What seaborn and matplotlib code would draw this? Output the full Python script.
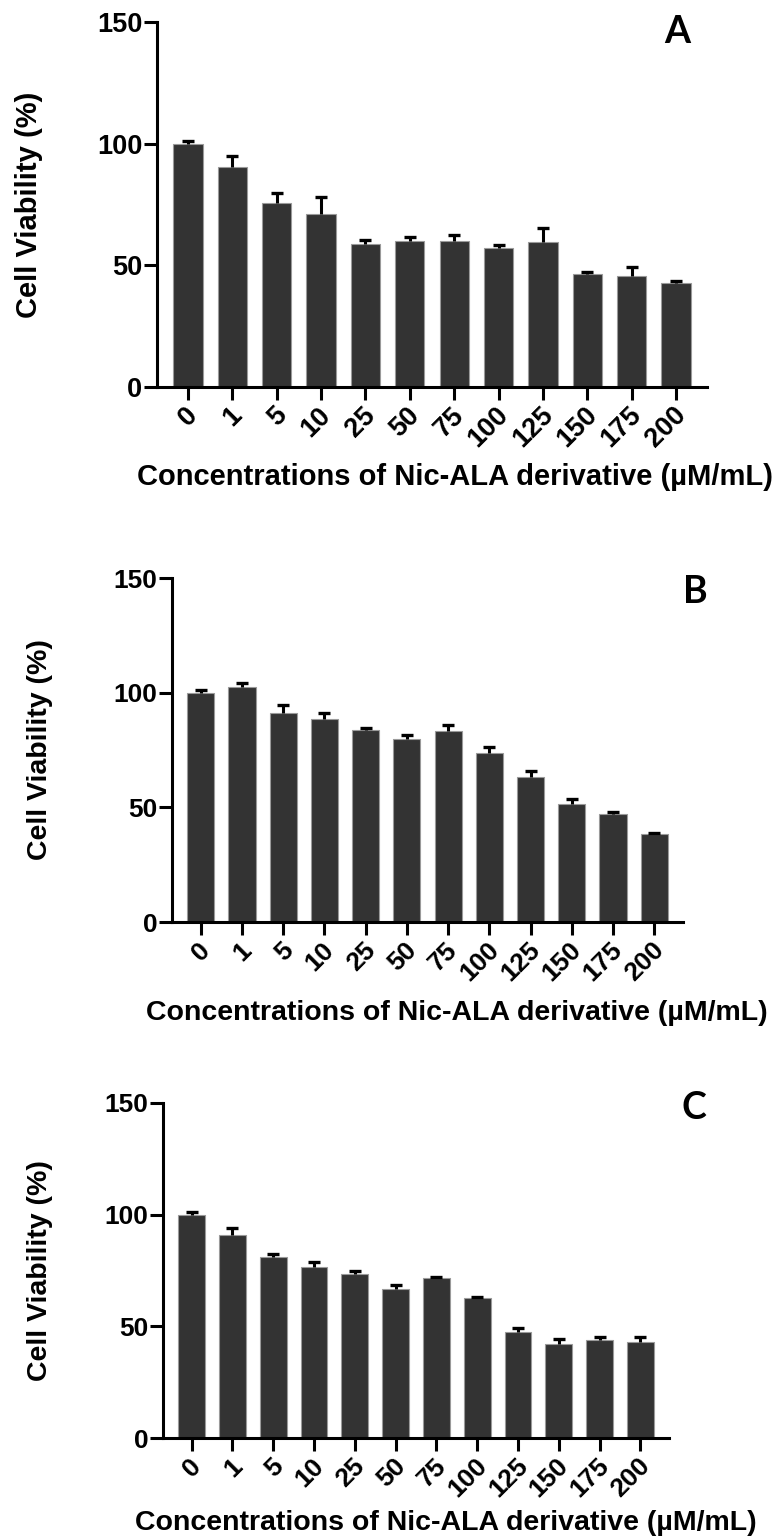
import numpy as np
import pandas as pd
import matplotlib
matplotlib.use("Agg")
import matplotlib.pyplot as plt
import matplotlib.transforms as mtrans
import seaborn as sns

# concentrations (uM/mL) on the x axis
conc = ["0", "1", "5", "10", "25", "50", "75", "100", "125", "150", "175", "200"]

# panel A
via_a = [99.7, 90.4, 75.6, 71.0, 58.6, 60.0, 59.8, 57.3, 59.6, 46.3, 45.8, 42.8]
err_a = [1.2, 4.4, 4.1, 7.1, 1.9, 1.6, 2.5, 1.0, 5.6, 0.8, 3.5, 0.7]

# panel B
via_b = [99.7, 102.3, 91.3, 88.7, 83.8, 80.0, 83.5, 73.5, 63.3, 51.3, 47.1, 38.3]
err_b = [1.5, 2.0, 3.2, 2.6, 1.0, 1.4, 2.6, 2.6, 2.6, 2.5, 0.7, 0.7]

# panel C
via_c = [99.7, 91.0, 80.9, 76.6, 73.4, 66.7, 71.5, 62.7, 47.5, 42.2, 43.9, 42.9]
err_c = [1.3, 2.9, 1.6, 2.4, 1.6, 1.8, 0.6, 0.6, 1.8, 2.0, 1.5, 2.2]

yticks = [0, 50, 100, 150]

sns.set_theme(style="ticks")
plt.rcParams['font.family'] = ['Liberation Sans', 'DejaVu Sans']
plt.rcParams['font.weight'] = 'bold'
plt.rcParams['text.color'] = 'black'
plt.rcParams['xtick.color'] = 'black'
plt.rcParams['ytick.color'] = 'black'
plt.rcParams['axes.labelcolor'] = 'black'

W, H = 784, 1538
fig = plt.figure(figsize=(W / 100, H / 100), dpi=100)

# pixel boxes: (spine x, axis end x, top y, zero y), label spots
panels = [
    dict(letter="A", vals=via_a, errs=err_a, box=(157, 707, 22, 387),
         let_xy=(677, 32), xlab=(455, 477), ylab_x=29, fs=21),
    dict(letter="B", vals=via_b, errs=err_b, box=(172, 683, 578, 922),
         let_xy=(695, 592), xlab=(457, 1013), ylab_x=40, fs=20.5),
    dict(letter="C", vals=via_c, errs=err_c, box=(163, 669, 1103, 1438),
         let_xy=(694, 1108), xlab=(446, 1523), ylab_x=40, fs=20.5),
]

for p in panels:
    x0, x1, ytop, ybot = p["box"]
    ax = fig.add_axes([x0 / W, 1 - ybot / H, (x1 - x0) / W, (ybot - ytop) / H])
    df = pd.DataFrame({"conc": conc, "viability": p["vals"]})
    sns.barplot(data=df, x="conc", y="viability", order=conc, color="#333333",
                saturation=1, width=0.66, edgecolor="#9a9a9a", linewidth=0.8,
                errorbar=None, ax=ax)
    xs = np.arange(len(conc))
    tops = np.array(p["vals"]) + np.array(p["errs"])
    # upper-only SD bars: stem plus a single cap on top
    ax.errorbar(xs, p["vals"], yerr=[np.zeros(len(conc)), p["errs"]], fmt="none",
                ecolor="black", elinewidth=2.2, capsize=0, zorder=5)
    ax.plot(xs, tops, ls="none", marker="_", ms=8, mew=2.4, color="black", zorder=6)

    ax.set_xlim(-0.7, len(conc) - 0.3)
    ax.set_ylim(0, 150)
    ax.set_yticks(yticks)
    sns.despine(ax=ax)
    for s in ["left", "bottom"]:
        ax.spines[s].set_linewidth(2.2)
        ax.spines[s].set_color("black")
    ax.tick_params(axis="both", length=9.5, width=2.2, color="black")
    ax.tick_params(axis="y", labelsize=p["fs"] - 1.5, pad=1)
    ax.tick_params(axis="x", pad=8)
    ax.set_xticks(xs)
    ax.set_xticklabels(conc, rotation=45, ha="right", va="center",
                       rotation_mode="anchor", fontsize=p["fs"] - 1.5, fontweight="bold")
    shift = mtrans.ScaledTranslation(6 / 100, 0, fig.dpi_scale_trans)
    for lab in ax.get_xticklabels():
        lab.set_transform(lab.get_transform() + shift)
    for lab in ax.get_yticklabels():
        lab.set_fontweight("bold")

    w_ax = x1 - x0
    h_ax = ybot - ytop
    ax.set_xlabel("Concentrations of Nic-ALA derivative (µM/mL)",
                  fontsize=p["fs"], fontweight="bold")
    ax.xaxis.set_label_coords((p["xlab"][0] - x0) / w_ax, (ybot - p["xlab"][1]) / h_ax)
    ax.xaxis.label.set_va("center")
    ax.set_ylabel("Cell Viability (%)", fontsize=p["fs"], fontweight="bold")
    ax.yaxis.set_label_coords((p["ylab_x"] - x0) / w_ax, 0.5)
    ax.yaxis.label.set_va("center")

    lx, ly = p["let_xy"]
    ax.text((lx - x0) / w_ax, (ybot - ly) / h_ax, p["letter"], transform=ax.transAxes,
            ha="center", va="center", fontsize=27, fontweight="bold",
            family=["Lato", "DejaVu Sans"])

fig.savefig("out.png", dpi=100)
